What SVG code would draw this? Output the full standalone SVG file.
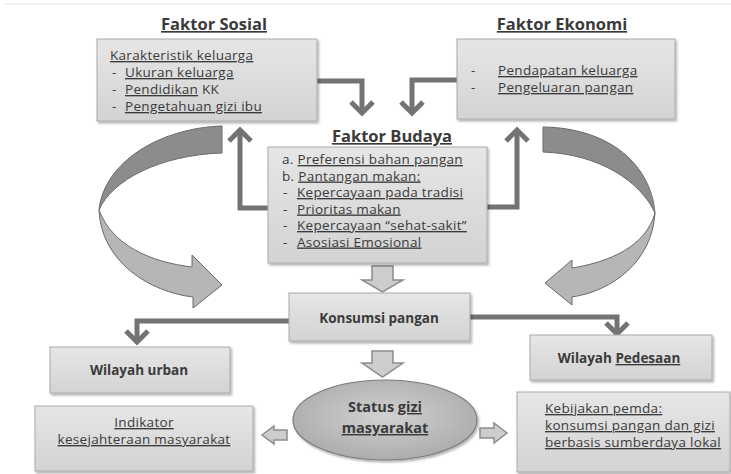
<svg xmlns="http://www.w3.org/2000/svg" width="731" height="474" viewBox="0 0 731 474">
<defs>
<linearGradient id="boxg" x1="0" y1="0" x2="0" y2="1">
<stop offset="0" stop-color="#e6e6e6"/>
<stop offset="1" stop-color="#d3d3d3"/>
</linearGradient>
<radialGradient id="ellg" cx="0.5" cy="0.45" r="0.6">
<stop offset="0" stop-color="#d2d2d2"/>
<stop offset="1" stop-color="#a9a9a9"/>
</radialGradient>
<filter id="sh" x="-5%" y="-5%" width="112%" height="120%">
<feDropShadow dx="1.5" dy="2" stdDeviation="1.2" flood-color="#000" flood-opacity="0.3"/>
</filter>
</defs>
<style>
.box{fill:url(#boxg);stroke:#a9a9a9;stroke-width:1;filter:url(#sh)}
.t{font-family:"Open Sans","Liberation Sans",sans-serif;font-size:13.5px;letter-spacing:0.3px;fill:#3a3a3a}
.b{font-weight:bold;letter-spacing:0}
.ttl{font-family:"Open Sans","Liberation Sans",sans-serif;font-size:16.5px;font-weight:bold;fill:#3a3a3a;text-decoration:underline}
.u{text-decoration:underline}
.m{text-anchor:middle}
.ln{fill:none;stroke:#737373;stroke-width:5;stroke-linejoin:miter}
.hd{fill:none;stroke:#737373;stroke-width:5;stroke-linecap:butt;stroke-linejoin:miter}
.blk{fill:#cdcdcd;stroke:#8c8c8c;stroke-width:1.5}
.dk{fill:#8c8c8c;stroke:#6a6a6a;stroke-width:1}
.lt{fill:#b6b6b6;stroke:#6a6a6a;stroke-width:1}
</style>
<line x1="5" y1="4" x2="731" y2="4" stroke="#ececec" stroke-width="1.5"/>

<g id="connectors">
<polyline class="ln" points="317,81 362,81 362,112"/>
<polyline class="hd" points="351,102 362,113 373,102"/>
<polyline class="ln" points="457,80 412,80 412,112"/>
<polyline class="hd" points="401,102 412,113 423,102"/>
<polyline class="ln" points="270,208 240,208 240,131"/>
<polyline class="hd" points="229,141 240,130 251,141"/>
<polyline class="ln" points="487,207 517,207 517,131"/>
<polyline class="hd" points="506,141 517,130 528,141"/>
<polyline class="ln" points="289,321 137,321 137,341"/>
<polyline class="hd" points="126,331 137,342 148,331"/>
<polyline class="ln" points="470,317 617,317 617,332"/>
<polyline class="hd" points="606,323 617,334 628,323"/>
<path class="blk" d="M372,266 H393 V280 H403 L382.5,292 L362,280 H372 Z"/>
<path class="blk" d="M372,351 H393 V363 H403 L382.5,377 L362,363 H372 Z"/>
<path class="blk" d="M287,430 V440 H274 V444 L262,435 L274,426 V430 Z"/>
<path class="blk" d="M480,428 V438 H494 V443 L507,433 L494,423 V428 Z"/>
<g id="curve-left">
<path class="dk" d="M222,126 C160,128 104,162 99,210 C112,180 160,155 222,153 Z"/>
<path class="lt" d="M99,210 C101,262 150,292 193,297 L193,308 L222,285 L192,255 L192,267 C150,262 112,245 99,210 Z"/>
</g>
<g id="curve-right">
<path class="dk" d="M543,127 C610,128 651,165 655,213 C641,182 600,154 543,152 Z"/>
<path class="lt" d="M655,213 C652,262 612,291 572,297 L572,305 L545,283 L572,260 L572,268 C610,262 646,246 655,213 Z"/>
</g>
</g>

<g id="faktor-sosial">
<text class="ttl m" x="214" y="30">Faktor Sosial</text>
<rect class="box" x="97" y="39" width="220" height="82"/>
<text class="t u" x="110" y="60">Karakteristik keluarga</text>
<text class="t" x="112" y="77">-</text><text class="t u" x="125" y="77">Ukuran keluarga</text>
<text class="t" x="112" y="94">-</text><text class="t" x="125" y="94"><tspan class="u">Pendidikan</tspan> KK</text>
<text class="t" x="112" y="111">-</text><text class="t u" x="125" y="111">Pengetahuan gizi ibu</text>
</g>

<g id="faktor-ekonomi">
<text class="ttl m" x="562" y="30">Faktor Ekonomi</text>
<rect class="box" x="457" y="39" width="218" height="80"/>
<text class="t" x="471" y="75">-</text><text class="t u" x="498" y="75">Pendapatan keluarga</text>
<text class="t" x="471" y="92">-</text><text class="t u" x="498" y="92">Pengeluaran pangan</text>
</g>

<g id="faktor-budaya">
<text class="ttl m" x="392" y="142">Faktor Budaya</text>
<rect class="box" x="268" y="147" width="219" height="116"/>
<text class="t" x="282" y="164">a. <tspan class="u">Preferensi bahan pangan</tspan></text>
<text class="t" x="282" y="180.5">b. <tspan class="u">Pantangan  makan:</tspan></text>
<text class="t" x="283" y="197">-</text><text class="t u" x="297" y="197">Kepercayaan pada tradisi</text>
<text class="t" x="283" y="213.5">-</text><text class="t u" x="297" y="213.5">Prioritas makan</text>
<text class="t" x="283" y="230">-</text><text class="t u" x="297" y="230">Kepercayaan “sehat-sakit”</text>
<text class="t" x="283" y="246.5">-</text><text class="t u" x="297" y="246.5">Asosiasi Emosional</text>
</g>

<g id="konsumsi">
<rect class="box" x="289" y="293" width="181" height="48"/>
<text class="t b m" x="379" y="323">Konsumsi pangan</text>
</g>

<g id="status-gizi">
<ellipse cx="385" cy="420" rx="92" ry="40" fill="url(#ellg)" stroke="#7a7a7a" stroke-width="1.2" filter="url(#sh)"/>
<text class="t b m" x="385" y="412" style="font-size:14.5px">Status <tspan class="u">gizi</tspan></text>
<text class="t b m u" x="385" y="433" style="font-size:14.5px">masyarakat</text>
</g>

<g id="wilayah-urban">
<rect class="box" x="50" y="347" width="180" height="46"/>
<text class="t b m" x="139" y="375">Wilayah urban</text>
</g>

<g id="wilayah-pedesaan">
<rect class="box" x="530" y="335" width="182" height="45"/>
<text class="t b m" x="619" y="363">Wilayah <tspan class="u">Pedesaan</tspan></text>
</g>

<g id="indikator">
<rect class="box" x="35" y="406" width="218" height="65"/>
<text class="t m u" x="144" y="427">Indikator</text>
<text class="t m u" x="144" y="444">kesejahteraan masyarakat</text>
</g>

<g id="kebijakan">
<rect class="box" x="517" y="392" width="213" height="80"/>
<text class="t u" x="545" y="413">Kebijakan pemda:</text>
<text class="t u" x="545" y="430">konsumsi pangan dan gizi</text>
<text class="t u" x="545" y="447">berbasis sumberdaya lokal</text>
</g>
</svg>
